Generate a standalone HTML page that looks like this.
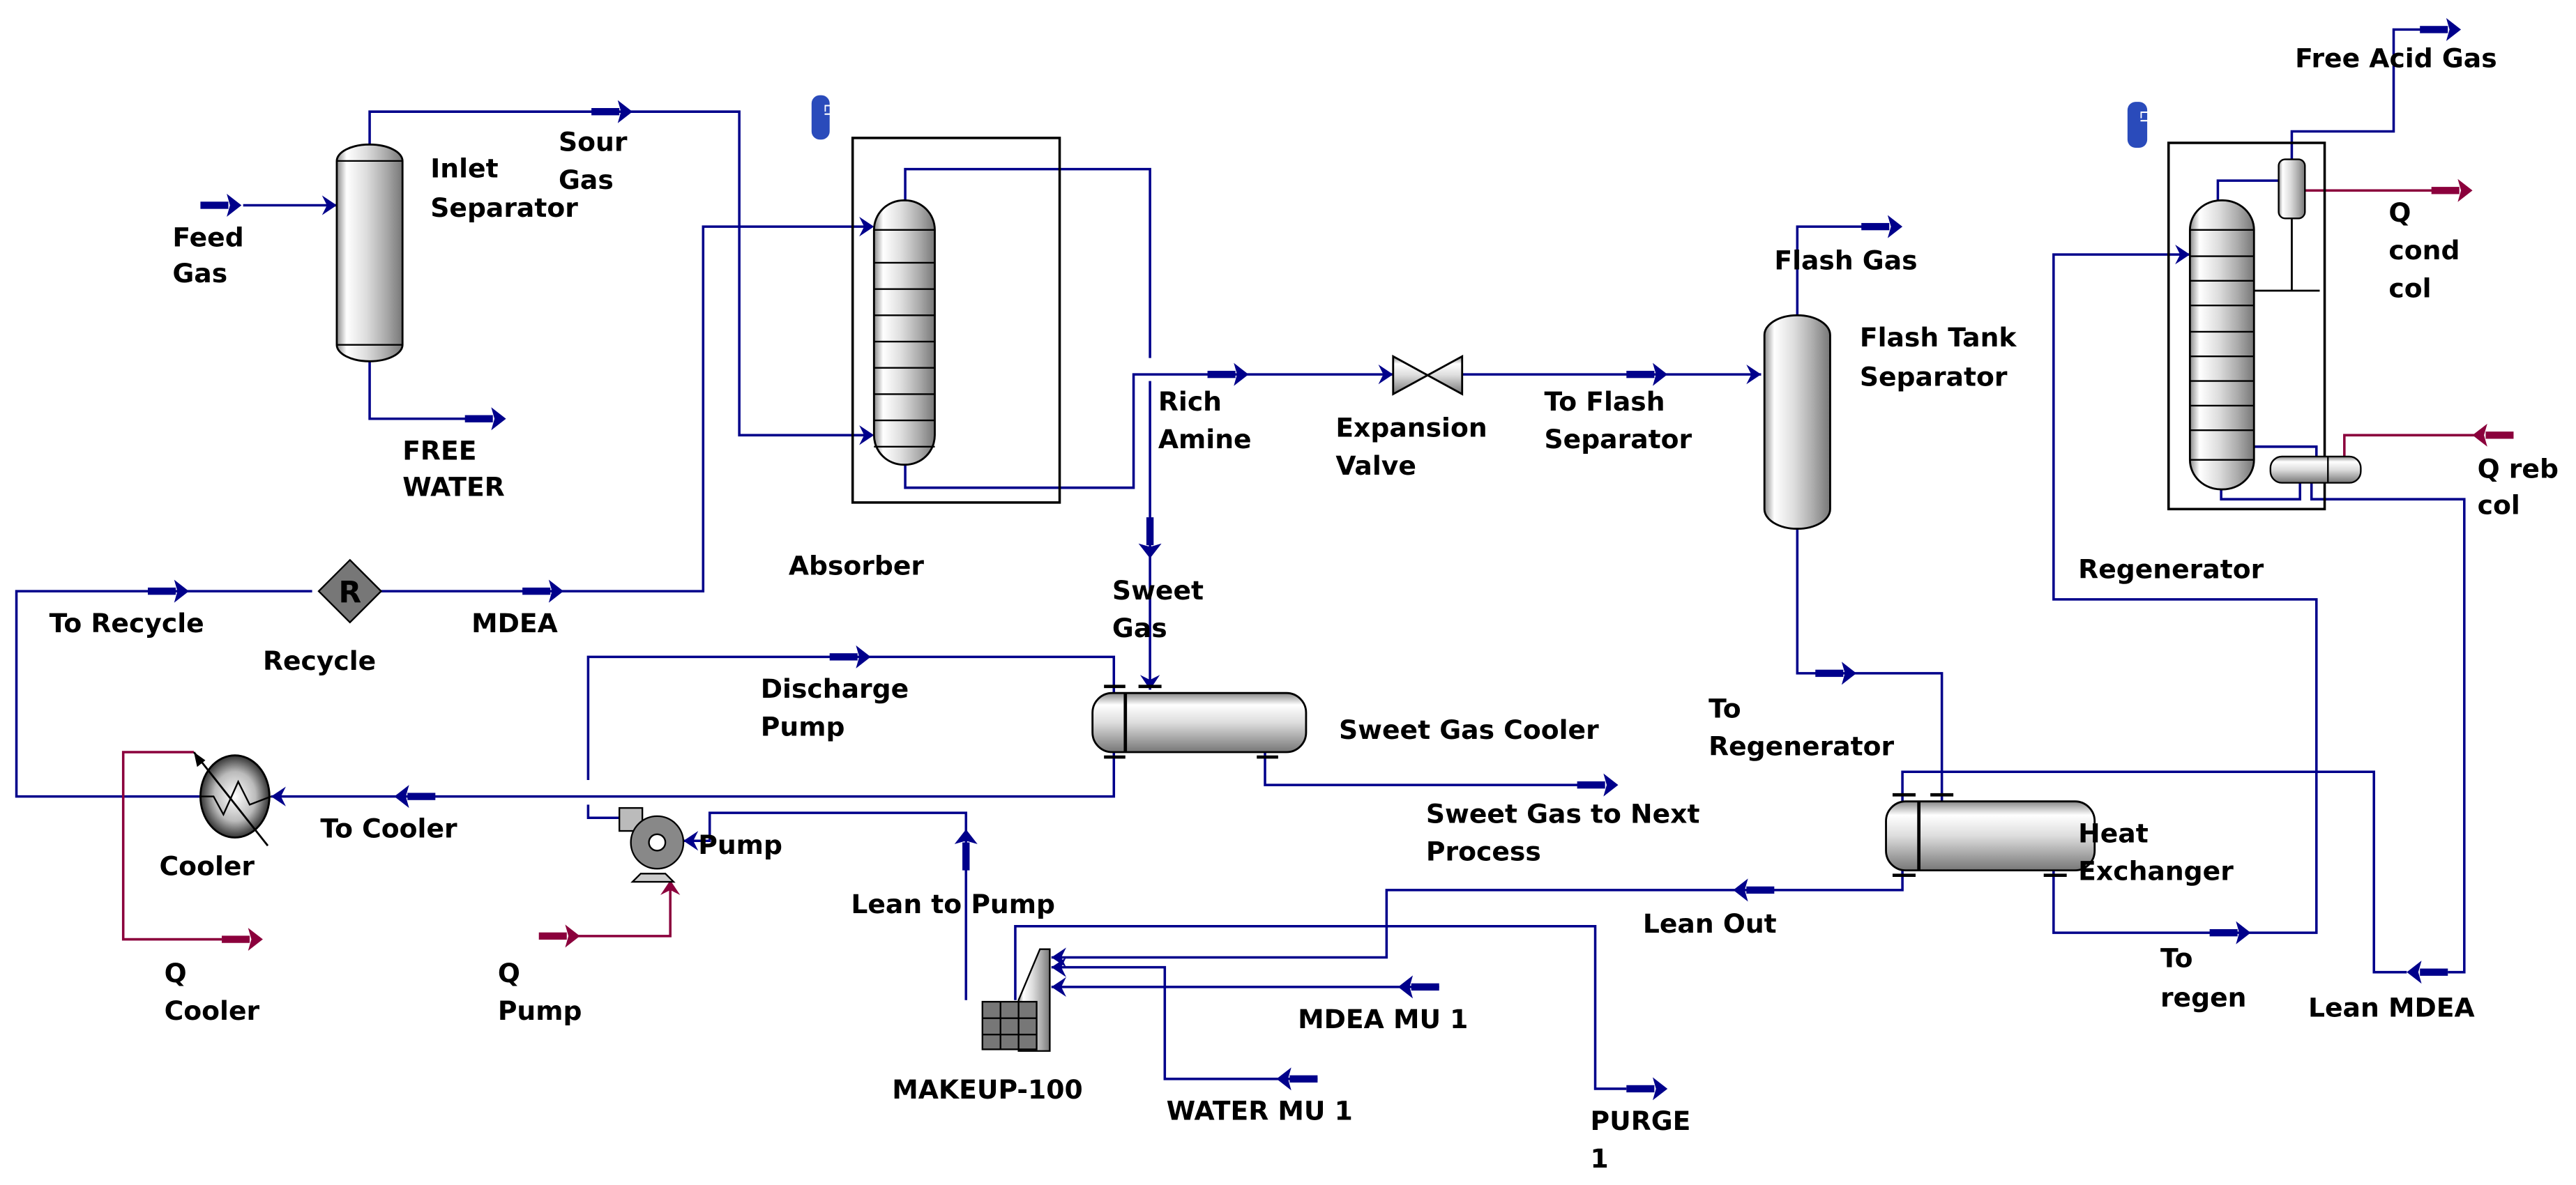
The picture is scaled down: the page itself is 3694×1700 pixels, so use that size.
<!DOCTYPE html>
<html><head><meta charset="utf-8"><style>
html,body{margin:0;padding:0;background:#fff}
svg{display:block}
text{font-family:"DejaVu Sans","Liberation Sans",sans-serif;font-weight:bold;font-size:16px;fill:#000}
</style></head><body>
<svg width="3694" height="1700" viewBox="0 0 1568 721.6" xmlns="http://www.w3.org/2000/svg">
<defs>
<linearGradient id="g" x1="0" x2="1" y1="0" y2="0">
<stop offset="0" stop-color="#8a8a8a"/><stop offset="0.15" stop-color="#fff"/><stop offset="0.45" stop-color="#ddd"/><stop offset="0.75" stop-color="#aaa"/><stop offset="1" stop-color="#777"/></linearGradient>
<linearGradient id="gv" x1="0" x2="0" y1="0" y2="1">
<stop offset="0" stop-color="#888"/><stop offset="0.2" stop-color="#fff"/><stop offset="0.5" stop-color="#ddd"/><stop offset="1" stop-color="#777"/></linearGradient>
<radialGradient id="gr"><stop offset="0" stop-color="#fff"/><stop offset="0.6" stop-color="#bbb"/><stop offset="1" stop-color="#333"/></radialGradient>
<g id="ab"><rect x="0" y="-2.2" width="17" height="4.4" fill="#00008b"/><path d="M16,-7 L25,0 L16,7 L18,0Z" fill="#00008b"/></g>
<g id="ar"><rect x="0" y="-2.2" width="17" height="4.4" fill="#8b003c"/><path d="M16,-7 L25,0 L16,7 L18,0Z" fill="#8b003c"/></g>
<path id="ah" d="M-9,-6 L0,0 L-9,6 L-6,0Z" fill="#00008b"/>
<path id="ahr" d="M-9,-6 L0,0 L-9,6 L-6,0Z" fill="#8b003c"/>
</defs>
<g fill="none" stroke="#00008b" stroke-width="1.5">
<path d="M148,125 H205"/>
<path d="M225,88 V68 H450 V265 H530"/>
<path d="M225,220 V255 H285"/>
<path d="M232,360 H428 V138 H530"/>
<path d="M190,360 H10 V485 H122"/>
<path d="M551,122 V103 H700 V218 M700,232 V420"/>
<path d="M551,283 V297 H690 V228 H848"/>
<path d="M890,228 H1072"/>
<path d="M1094,192 V138 H1135"/>
<path d="M1094,322 V410 H1182 V488"/>
<path d="M1350,122 V110 H1387"/>
<path d="M1395,97 V80 H1457 V18 H1475"/>
<path d="M1352,298 V304 H1400 V294"/>
<path d="M1372,272 H1410 V280"/>
<path d="M1407,294 V304 H1500 V592 H1490"/>
<path d="M1465,592 H1445 V470 H1158 V488"/>
<path d="M1250,530 V568 H1410 V365 H1250 V155 H1333"/>
<path d="M1158,530 V542 H844 V583 H640"/>
<path d="M876,601 H640"/>
<path d="M802,657 H709 V589 H640"/>
<path d="M618,609 V564 H971 V663 H990"/>
<path d="M358,475 V400 H678 V422"/>
<path d="M678,458 V485 H165"/>
<path d="M770,458 V478 H965"/>
<path d="M588,609 V495 H432 V512 H416"/>
<path d="M385,498 H358 V490"/>
</g>
<g fill="none" stroke="#8b003c" stroke-width="1.5">
<path d="M118,458 H75 V572 H135"/>
<path d="M352,570 H408 V536"/>
<path d="M1403,116 H1485"/>
<path d="M1510,265 H1427 V281"/>
</g>
<use href="#ab" transform="translate(122,125)"/>
<use href="#ab" transform="translate(360,68)"/>
<use href="#ab" transform="translate(283,255)"/>
<use href="#ab" transform="translate(735,228)"/>
<use href="#ab" transform="translate(990,228)"/>
<use href="#ab" transform="translate(1133,138)"/>
<use href="#ab" transform="translate(1105,410)"/>
<use href="#ab" transform="translate(1473,18)"/>
<use href="#ab" transform="translate(90,360)"/>
<use href="#ab" transform="translate(318,360)"/>
<use href="#ab" transform="translate(505,400)"/>
<use href="#ab" transform="translate(960,478)"/>
<use href="#ab" transform="translate(1345,568)"/>
<use href="#ab" transform="translate(990,663)"/>
<use href="#ab" transform="translate(700,315) rotate(90)"/>
<use href="#ab" transform="translate(265,485) rotate(180)"/>
<use href="#ab" transform="translate(1080,542) rotate(180)"/>
<use href="#ab" transform="translate(1490,592) rotate(180)"/>
<use href="#ab" transform="translate(876,601) rotate(180)"/>
<use href="#ab" transform="translate(802,657) rotate(180)"/>
<use href="#ab" transform="translate(588,530) rotate(-90)"/>
<use href="#ar" transform="translate(135,572)"/>
<use href="#ar" transform="translate(328,570)"/>
<use href="#ar" transform="translate(1480,116)"/>
<use href="#ar" transform="translate(1530,265) rotate(180)"/>
<use href="#ah" transform="translate(205,125)"/>
<use href="#ah" transform="translate(532,265)"/>
<use href="#ah" transform="translate(532,138)"/>
<use href="#ah" transform="translate(848,228)"/>
<use href="#ah" transform="translate(1072,228)"/>
<use href="#ah" transform="translate(1333,155)"/>
<use href="#ah" transform="translate(700,420) rotate(90)"/>
<use href="#ah" transform="translate(165,485) rotate(180)"/>
<use href="#ah" transform="translate(416,512) rotate(180)"/>
<use href="#ah" transform="translate(640,583) rotate(180)"/>
<use href="#ah" transform="translate(640,589) rotate(180)"/>
<use href="#ah" transform="translate(640,601) rotate(180)"/>
<use href="#ahr" transform="translate(408,536) rotate(-90)"/>
<rect x="519" y="84" width="126" height="222" fill="none" stroke="#000" stroke-width="1.5"/>
<rect x="1320" y="87" width="95" height="223" fill="none" stroke="#000" stroke-width="1.5"/>
<rect x="205" y="88" width="40" height="132" rx="20" ry="10" fill="url(#g)" stroke="#000" stroke-width="1.2"/>
<path d="M205,98 H245 M205,210 H245" stroke="#000"/>
<rect x="1074" y="192" width="40" height="130" rx="20" ry="12" fill="url(#g)" stroke="#000" stroke-width="1.2"/>
<rect x="532" y="122" width="37" height="161" rx="18" ry="18" fill="url(#g)" stroke="#000" stroke-width="1.2"/>
<path d="M532,140 H569 M532,160 H569 M532,176 H569 M532,192 H569 M532,208 H569 M532,224 H569 M532,240 H569 M532,256 H569 M532,272 H569" stroke="#000" stroke-width="1"/>
<rect x="1333" y="122" width="39" height="176" rx="19" ry="18" fill="url(#g)" stroke="#000" stroke-width="1.2"/>
<path d="M1333,140 H1372 M1333,156 H1372 M1333,171 H1372 M1333,186 H1372 M1333,202 H1372 M1333,217 H1372 M1333,232 H1372 M1333,247 H1372 M1333,262 H1372 M1333,280 H1372" stroke="#000" stroke-width="1"/>
<rect x="1387" y="97" width="16" height="36" rx="4" fill="url(#g)" stroke="#000"/>
<path d="M1372,177 H1412 M1395,133 V177" stroke="#000" stroke-width="1.2"/>
<rect x="1382" y="278" width="55" height="16" rx="7" fill="url(#gv)" stroke="#000"/>
<path d="M1417,278 V294" stroke="#000"/>
<path d="M848,217 L890,240 L890,217 L848,240Z" fill="url(#gv)" stroke="#000" stroke-width="1.2"/>
<rect x="665" y="422" width="130" height="36" rx="12" fill="url(#gv)" stroke="#000" stroke-width="1.2"/>
<path d="M685,422 V458 M672,418 H685 M693,418 H707 M672,461 H685 M765,461 H778" stroke="#000" stroke-width="2"/>
<rect x="1148" y="488" width="127" height="42" rx="12" fill="url(#gv)" stroke="#000" stroke-width="1.2"/>
<path d="M1168,488 V530 M1152,484 H1166 M1175,484 H1189 M1152,533 H1166 M1244,533 H1258" stroke="#000" stroke-width="2"/>
<path d="M213,341 L232,360 L213,379 L194,360Z" fill="#777" stroke="#000"/>
<text x="213" y="367" text-anchor="middle" style="font-size:18px">R</text>
<ellipse cx="143" cy="485" rx="21" ry="25" fill="url(#gr)" stroke="#000" stroke-width="1.2"/>
<path d="M122,485 L130,485 L136,496 L145,476 L152,490 L165,485" fill="none" stroke="#000"/>
<path d="M118,458 L163,515" stroke="#000" stroke-width="1.2"/>
<path d="M118,458 l2,9 l5,-4z" fill="#000"/>
<rect x="377" y="492" width="14" height="14" fill="#bbb" stroke="#000"/>
<path d="M390,532 L385,537 L410,537 L405,532Z" fill="#ccc" stroke="#000"/>
<circle cx="400" cy="513" r="16" fill="#888" stroke="#000"/>
<circle cx="400" cy="513" r="5" fill="#fff" stroke="#000"/>
<path d="M620,609 L633,578 L639,578 L639,640 L620,640Z" fill="url(#g)" stroke="#000"/>
<rect x="598" y="610" width="33" height="29" fill="#777" stroke="#000"/>
<path d="M598,620 H631 M598,630 H631 M609,610 V639 M620,610 V639" stroke="#000"/>
<rect x="494" y="58" width="11" height="27" rx="5" fill="#2a4bbb"/>
<text transform="translate(502,63) rotate(90)" style="font-size:9px;fill:#fff;font-weight:normal">LT</text>
<rect x="1295" y="62" width="12" height="28" rx="5" fill="#2a4bbb"/>
<text transform="translate(1303,67) rotate(90)" style="font-size:9px;fill:#fff;font-weight:normal">LT</text>
<text x="105" y="150">Feed</text><text x="105" y="172">Gas</text>
<text x="262" y="108">Inlet</text><text x="262" y="132">Separator</text>
<text x="340" y="92">Sour</text><text x="340" y="115">Gas</text>
<text x="245" y="280">FREE</text><text x="245" y="302">WATER</text>
<text x="480" y="350">Absorber</text>
<text x="705" y="250">Rich</text><text x="705" y="273">Amine</text>
<text x="813" y="266">Expansion</text><text x="813" y="289">Valve</text>
<text x="940" y="250">To Flash</text><text x="940" y="273">Separator</text>
<text x="1080" y="164">Flash Gas</text>
<text x="1132" y="211">Flash Tank</text><text x="1132" y="235">Separator</text>
<text x="1397" y="41">Free Acid Gas</text>
<text x="1454" y="135">Q</text><text x="1454" y="158">cond</text><text x="1454" y="181">col</text>
<text x="1508" y="291">Q reb</text><text x="1508" y="313">col</text>
<text x="1265" y="352">Regenerator</text>
<text x="677" y="365">Sweet</text><text x="677" y="388">Gas</text>
<text x="30" y="385">To Recycle</text>
<text x="160" y="408">Recycle</text>
<text x="287" y="385">MDEA</text>
<text x="463" y="425">Discharge</text><text x="463" y="448">Pump</text>
<text x="815" y="450">Sweet Gas Cooler</text>
<text x="1040" y="437">To</text><text x="1040" y="460">Regenerator</text>
<text x="195" y="510">To Cooler</text>
<text x="97" y="533">Cooler</text>
<text x="425" y="520">Pump</text>
<text x="868" y="501">Sweet Gas to Next</text><text x="868" y="524">Process</text>
<text x="1265" y="513">Heat</text><text x="1265" y="536">Exchanger</text>
<text x="518" y="556">Lean to Pump</text>
<text x="1000" y="568">Lean Out</text>
<text x="1315" y="589">To</text><text x="1315" y="613">regen</text>
<text x="1405" y="619">Lean MDEA</text>
<text x="100" y="598">Q</text><text x="100" y="621">Cooler</text>
<text x="303" y="598">Q</text><text x="303" y="621">Pump</text>
<text x="790" y="626">MDEA MU 1</text>
<text x="543" y="669">MAKEUP-100</text>
<text x="710" y="682">WATER MU 1</text>
<text x="968" y="688">PURGE</text><text x="968" y="711">1</text>
</svg>
</body></html>
